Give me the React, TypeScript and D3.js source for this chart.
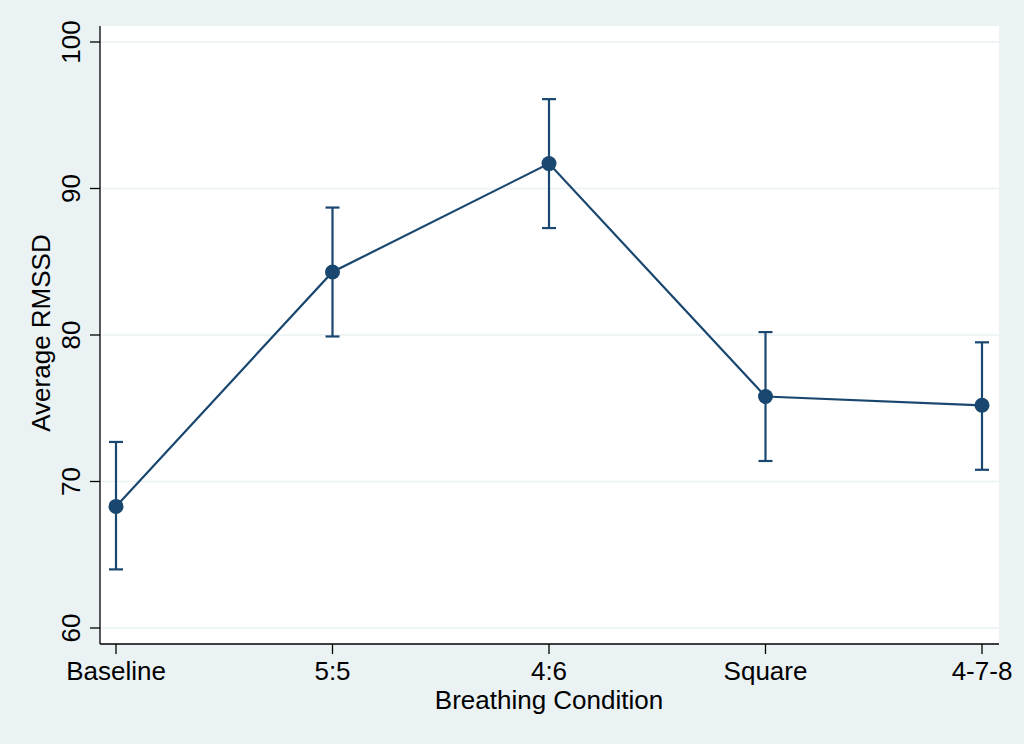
import React from "react";
import * as d3 from "d3";

const categories = ["Baseline", "5:5", "4:6", "Square", "4-7-8"];
const means = [68.3, 84.3, 91.7, 75.8, 75.2];
const upper = [72.7, 88.7, 96.1, 80.2, 79.5];
const lower = [64.0, 79.9, 87.3, 71.4, 70.8];
const yTicks = [60, 70, 80, 90, 100];

const W = 1024;
const H = 744;
const plot = { left: 100, right: 999, top: 26, bottom: 644 };
const navy = "#1a476f";
const bg = "#eaf2f3";
const font = "'Liberation Sans', Arial, Helvetica, sans-serif";
const fs = 26;

export default function App() {
  const x = d3.scalePoint<string>().domain(categories).range([116, 982]);
  const y = d3.scaleLinear().domain([60, 100]).range([628, 42]);
  const line = d3
    .line<number>()
    .x((_, i) => x(categories[i]) as number)
    .y((d) => y(d));

  return (
    <div style={{ position: "fixed", left: 0, top: 0, width: W, height: H }}>
      <svg width={W} height={H} style={{ display: "block" }}>
        <rect x={0} y={0} width={W} height={H} fill={bg} />
        <rect
          x={plot.left}
          y={plot.top}
          width={plot.right - plot.left}
          height={plot.bottom - plot.top}
          fill="#ffffff"
        />
        {yTicks.map((t) => (
          <line
            key={"g" + t}
            x1={plot.left}
            x2={plot.right}
            y1={y(t)}
            y2={y(t)}
            stroke={bg}
            strokeWidth={1.5}
          />
        ))}
        <line x1={plot.left} x2={plot.left} y1={plot.top} y2={plot.bottom} stroke="#000" strokeWidth={1.3} />
        <line x1={plot.left} x2={plot.right} y1={plot.bottom} y2={plot.bottom} stroke="#000" strokeWidth={1.3} />
        {yTicks.map((t) => (
          <g key={"yt" + t}>
            <line x1={plot.left - 10} x2={plot.left} y1={y(t)} y2={y(t)} stroke="#000" strokeWidth={1.3} />
            <text
              transform={`translate(${80},${y(t)}) rotate(-90)`}
              textAnchor="middle"
              fontFamily={font}
              fontSize={fs}
              fill="#000"
            >
              {t}
            </text>
          </g>
        ))}
        {categories.map((c) => (
          <g key={"xt" + c}>
            <line x1={x(c)} x2={x(c)} y1={plot.bottom} y2={plot.bottom + 10} stroke="#000" strokeWidth={1.3} />
            <text
              x={x(c)}
              y={680}
              textAnchor="middle"
              fontFamily={font}
              fontSize={fs}
              fill="#000"
            >
              {c}
            </text>
          </g>
        ))}
        <text x={549} y={709} textAnchor="middle" fontFamily={font} fontSize={fs} fill="#000">
          Breathing Condition
        </text>
        <text
          transform={`translate(${50},${333}) rotate(-90)`}
          textAnchor="middle"
          fontFamily={font}
          fontSize={fs}
          fill="#000"
        >
          Average RMSSD
        </text>
        {categories.map((c, i) => {
          const cx = x(c) as number;
          return (
            <g key={"e" + c} stroke={navy} strokeWidth={2.2}>
              <line x1={cx} x2={cx} y1={y(upper[i])} y2={y(lower[i])} />
              <line x1={cx - 7} x2={cx + 7} y1={y(upper[i])} y2={y(upper[i])} />
              <line x1={cx - 7} x2={cx + 7} y1={y(lower[i])} y2={y(lower[i])} />
            </g>
          );
        })}
        <path d={line(means) || ""} fill="none" stroke={navy} strokeWidth={2.2} />
        {categories.map((c, i) => (
          <circle key={"p" + c} cx={x(c)} cy={y(means[i])} r={7.5} fill={navy} />
        ))}
      </svg>
    </div>
  );
}
